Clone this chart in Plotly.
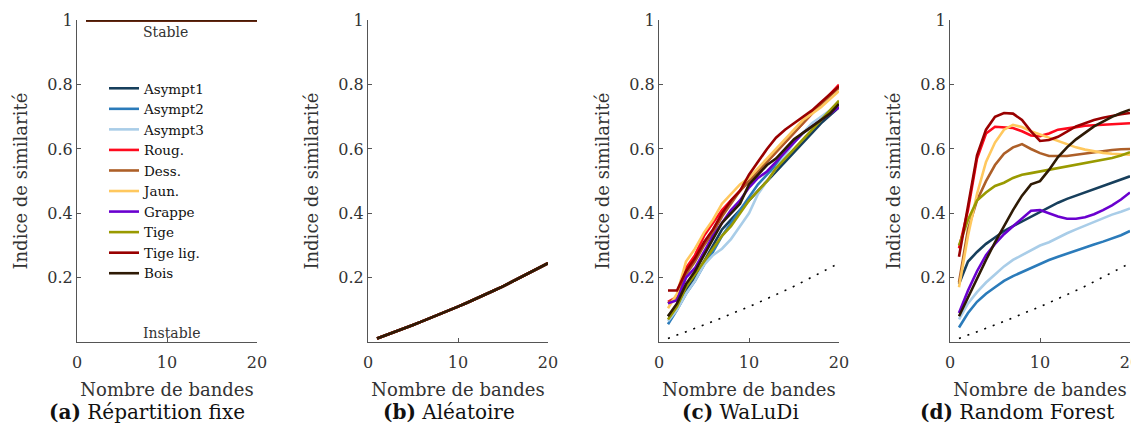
import plotly.graph_objects as go

W, H = 1139, 437
PAGE_OFFSET = 8  # default body margin of the page holding the figure

bands = list(range(1, 21))

series_names = ["Asympt1", "Asympt2", "Asympt3", "Roug.", "Dess.", "Jaun.",
                "Grappe", "Tige", "Tige lig.", "Bois"]
series_colors = ["#173f5c", "#2b7bba", "#a9cde8", "#ff0a1e", "#ad5f28", "#ffc85e",
                 "#6a00cf", "#999a00", "#990000", "#2e1a05"]

# (a) Répartition fixe : always stable
fixed_values = [1.0] * 20

# (b) Aléatoire : expected similarity of random selection (also dotted reference)
random_values = [0.011, 0.021, 0.031, 0.042, 0.053, 0.064, 0.075, 0.086, 0.098, 0.110,
                 0.122, 0.134, 0.147, 0.160, 0.173, 0.187, 0.201, 0.215, 0.230, 0.245]

# (c) WaLuDi
waludi = {
    "Asympt1": [0.08, 0.11, 0.16, 0.20, 0.25, 0.30, 0.35, 0.38, 0.41, 0.44,
                0.47, 0.50, 0.53, 0.56, 0.59, 0.62, 0.65, 0.68, 0.705, 0.73],
    "Asympt2": [0.055, 0.10, 0.15, 0.19, 0.24, 0.28, 0.33, 0.37, 0.41, 0.45,
                0.49, 0.52, 0.55, 0.59, 0.62, 0.65, 0.67, 0.69, 0.715, 0.74],
    "Asympt3": [0.065, 0.10, 0.15, 0.19, 0.24, 0.27, 0.29, 0.32, 0.36, 0.40,
                0.46, 0.50, 0.54, 0.58, 0.62, 0.65, 0.68, 0.70, 0.72, 0.745],
    "Roug.": [0.125, 0.14, 0.23, 0.27, 0.33, 0.37, 0.41, 0.44, 0.47, 0.50,
              0.53, 0.56, 0.59, 0.62, 0.65, 0.68, 0.71, 0.74, 0.77, 0.80],
    "Dess.": [0.12, 0.14, 0.21, 0.25, 0.30, 0.34, 0.39, 0.43, 0.47, 0.50,
              0.53, 0.56, 0.59, 0.62, 0.65, 0.68, 0.71, 0.74, 0.765, 0.79],
    "Jaun.": [0.105, 0.15, 0.25, 0.29, 0.34, 0.38, 0.43, 0.46, 0.49, 0.51,
              0.54, 0.57, 0.60, 0.63, 0.66, 0.69, 0.71, 0.73, 0.755, 0.78],
    "Grappe": [0.12, 0.13, 0.20, 0.23, 0.28, 0.33, 0.37, 0.41, 0.44, 0.48,
               0.51, 0.53, 0.56, 0.59, 0.62, 0.65, 0.67, 0.69, 0.71, 0.73],
    "Tige": [0.07, 0.11, 0.17, 0.21, 0.25, 0.29, 0.33, 0.36, 0.40, 0.44,
             0.47, 0.50, 0.54, 0.57, 0.60, 0.63, 0.66, 0.69, 0.72, 0.75],
    "Tige lig.": [0.16, 0.16, 0.22, 0.26, 0.31, 0.35, 0.40, 0.44, 0.47, 0.52,
                  0.56, 0.60, 0.635, 0.66, 0.68, 0.70, 0.72, 0.745, 0.77, 0.795],
    "Bois": [0.08, 0.12, 0.18, 0.22, 0.27, 0.32, 0.37, 0.40, 0.43, 0.49,
             0.52, 0.55, 0.57, 0.60, 0.63, 0.65, 0.67, 0.69, 0.71, 0.74],
}

# (d) Random Forest
random_forest = {
    "Asympt1": [0.18, 0.25, 0.28, 0.305, 0.325, 0.345, 0.36, 0.375, 0.39, 0.405,
                0.42, 0.433, 0.445, 0.455, 0.465, 0.475, 0.485, 0.495, 0.505, 0.515],
    "Asympt2": [0.045, 0.09, 0.125, 0.15, 0.17, 0.19, 0.205, 0.218, 0.23, 0.242,
                0.255, 0.265, 0.275, 0.285, 0.295, 0.303, 0.312, 0.322, 0.332, 0.345],
    "Asympt3": [0.07, 0.12, 0.155, 0.185, 0.21, 0.235, 0.255, 0.27, 0.285, 0.30,
                0.31, 0.325, 0.338, 0.35, 0.362, 0.374, 0.385, 0.396, 0.405, 0.415],
    "Roug.": [0.291, 0.41, 0.57, 0.648, 0.669, 0.668, 0.665, 0.655, 0.642, 0.64,
              0.648, 0.66, 0.665, 0.668, 0.672, 0.674, 0.676, 0.677, 0.678, 0.68],
    "Dess.": [0.185, 0.35, 0.44, 0.50, 0.55, 0.585, 0.605, 0.615, 0.60, 0.587,
              0.578, 0.577, 0.578, 0.582, 0.586, 0.59, 0.594, 0.597, 0.599, 0.60],
    "Jaun.": [0.17, 0.33, 0.46, 0.56, 0.62, 0.66, 0.675, 0.668, 0.655, 0.645,
              0.635, 0.625, 0.615, 0.605, 0.598, 0.592, 0.588, 0.585, 0.583, 0.582],
    "Grappe": [0.09, 0.16, 0.22, 0.27, 0.305, 0.335, 0.36, 0.385, 0.408, 0.41,
               0.40, 0.39, 0.383, 0.383, 0.388, 0.397, 0.41, 0.425, 0.443, 0.465],
    "Tige": [0.30, 0.38, 0.44, 0.465, 0.485, 0.495, 0.51, 0.52, 0.525, 0.53,
             0.535, 0.54, 0.545, 0.55, 0.555, 0.56, 0.565, 0.572, 0.58, 0.59],
    "Tige lig.": [0.265, 0.42, 0.58, 0.66, 0.70, 0.712, 0.71, 0.69, 0.655, 0.625,
                  0.628, 0.638, 0.655, 0.67, 0.68, 0.69, 0.697, 0.703, 0.708, 0.712],
    "Bois": [0.08, 0.14, 0.20, 0.255, 0.31, 0.36, 0.41, 0.455, 0.49, 0.50,
             0.535, 0.575, 0.605, 0.63, 0.65, 0.67, 0.685, 0.70, 0.712, 0.722],
}

captions = ["(a)", "(b)", "(c)", "(d)"]
caption_texts = ["Répartition fixe", "Aléatoire", "WaLuDi", "Random Forest"]

y_tick_vals = [0.2, 0.4, 0.6, 0.8, 1.0]
y_tick_text = ["0.2", "0.4", "0.6", "0.8", "1"]
x_tick_vals = [0, 10, 20]
x_tick_text = ["0", "10", "20"]

FONT = "DejaVu Serif"
AXIS_COLOR = "#555555"
TEXT_COLOR = "#333333"


def fx(screen_x):
    return (screen_x - PAGE_OFFSET) / W


def fy(screen_y):
    return 1 - (screen_y - PAGE_OFFSET) / H


fig = go.Figure()

plot_left = [77, 368, 659, 950]
plot_w = 180
y_dom = [fy(342), fy(20.3)]

for i in range(4):
    xa = "x" if i == 0 else f"x{i+1}"
    ya = "y" if i == 0 else f"y{i+1}"
    for j, name in enumerate(series_names):
        if i == 0:
            vals = fixed_values
        elif i == 1:
            vals = random_values
        elif i == 2:
            vals = waludi[name]
        else:
            vals = random_forest[name]
        fig.add_trace(go.Scatter(
            x=bands, y=vals, mode="lines", name=name,
            line=dict(color=series_colors[j], width=2.6),
            xaxis=xa, yaxis=ya, showlegend=(i == 0), legendgroup=name,
        ))
    if i >= 2:
        fig.add_trace(go.Scatter(
            x=bands, y=random_values, mode="lines", name="Aléatoire",
            line=dict(color="black", width=1.6, dash="2px,7px"),
            xaxis=xa, yaxis=ya, showlegend=False,
        ))

layout = dict(
    template="none",
    width=W, height=H, autosize=False,
    margin=dict(l=0, r=0, t=0, b=0, pad=0),
    paper_bgcolor="white", plot_bgcolor="white",
    font=dict(family=FONT, color=TEXT_COLOR, size=16),
    legend=dict(x=fx(104), y=fy(73), xanchor="left", yanchor="top",
                bgcolor="rgba(0,0,0,0)", borderwidth=0,
                font=dict(size=13.5, color="#111111"),
                itemwidth=30, tracegroupgap=0),
    annotations=[],
)

for i in range(4):
    xk = "xaxis" if i == 0 else f"xaxis{i+1}"
    yk = "yaxis" if i == 0 else f"yaxis{i+1}"
    xa_id = "y" if i == 0 else f"y{i+1}"
    x_id = "x" if i == 0 else f"x{i+1}"
    layout[xk] = dict(
        domain=[fx(plot_left[i]), fx(plot_left[i] + plot_w)], anchor=xa_id,
        range=[0, 20], tickvals=x_tick_vals, ticktext=x_tick_text,
        showline=True, linecolor=AXIS_COLOR, linewidth=1, automargin=False,
        ticks="inside", ticklen=4, tickcolor=AXIS_COLOR, ticklabelstandoff=6,
        showgrid=False, zeroline=False,
        tickfont=dict(size=16, color=TEXT_COLOR),
        title=dict(text="Nombre de bandes", font=dict(size=18, color=TEXT_COLOR), standoff=12),
    )
    layout[yk] = dict(
        domain=y_dom, anchor=x_id, range=[0, 1],
        tickvals=y_tick_vals, ticktext=y_tick_text,
        showline=True, linecolor=AXIS_COLOR, linewidth=1, automargin=False,
        ticks="inside", ticklen=4, tickcolor=AXIS_COLOR,
        showgrid=False, zeroline=False,
        tickfont=dict(size=16, color=TEXT_COLOR),
        title=dict(text="Indice de similarité", font=dict(size=18, color=TEXT_COLOR), standoff=15),
    )

caption_centers = [147, 449, 740, 1017]
for i in range(4):
    layout["annotations"].append(dict(
        text=f"<b>{captions[i]}</b> {caption_texts[i]}",
        x=fx(caption_centers[i]), y=fy(412), xref="paper", yref="paper",
        xanchor="center", yanchor="middle", showarrow=False,
        font=dict(size=20, color="#111111"),
    ))

layout["annotations"].append(dict(text="Stable", x=9.8, y=0.963, xref="x", yref="y",
                                  showarrow=False, font=dict(size=14, color=TEXT_COLOR)))
layout["annotations"].append(dict(text="Instable", x=10.5, y=0.028, xref="x", yref="y",
                                  showarrow=False, font=dict(size=14, color=TEXT_COLOR)))

fig.update_layout(**layout)
fig.write_html("out.html")
